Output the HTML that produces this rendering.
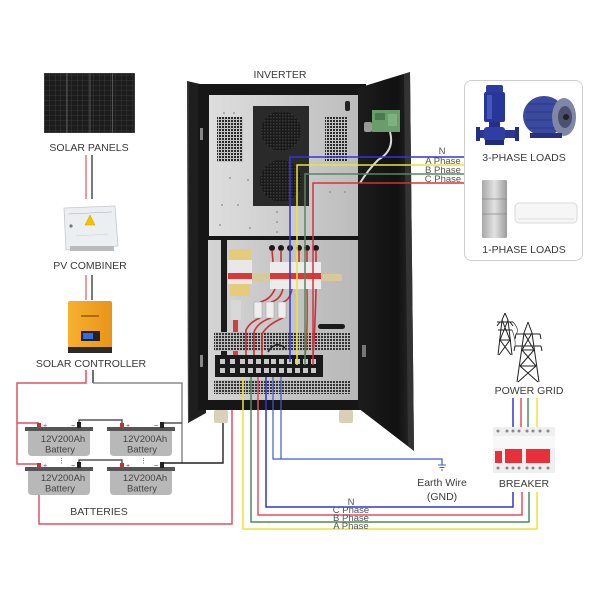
<!DOCTYPE html>
<html><head><meta charset="utf-8"><style>
html,body{margin:0;padding:0;background:#fff;}
svg{display:block;}
text{font-family:"Liberation Sans",Arial,sans-serif;fill:#3a3a3a;}
</style></head><body>
<svg width="600" height="600" viewBox="0 0 600 600" xmlns="http://www.w3.org/2000/svg">
<defs>
 <pattern id="vent" width="3" height="3" patternUnits="userSpaceOnUse"><rect width="3" height="3" fill="#c4c4c4"/><rect width="2" height="2" fill="#2a2a2a"/></pattern>
 <pattern id="vent2" width="3" height="3" patternUnits="userSpaceOnUse"><rect width="3" height="3" fill="#bdbdbd"/><rect width="2" height="2" fill="#333"/></pattern>
 <pattern id="cell" width="5.5" height="5" patternUnits="userSpaceOnUse"><rect width="5.5" height="5" fill="#1c1c1c"/><path d="M0 0H5.5M0 0V5" stroke="#4a4a4a" stroke-width="0.6"/></pattern>
 <pattern id="fan" width="3" height="3" patternUnits="userSpaceOnUse"><rect width="3" height="3" fill="#1a1a1a"/><rect width="1.5" height="1.5" fill="#3a3a3a"/></pattern>
 <linearGradient id="upper" x1="0" x2="1"><stop offset="0" stop-color="#dedede"/><stop offset="1" stop-color="#bcbcbc"/></linearGradient>
 <linearGradient id="lower" x1="0" x2="1"><stop offset="0" stop-color="#d4d4d4"/><stop offset="1" stop-color="#b8b8b8"/></linearGradient>
 <linearGradient id="orange" x1="0" x2="1"><stop offset="0" stop-color="#f7b030"/><stop offset="1" stop-color="#e89418"/></linearGradient>
 <linearGradient id="fridge" x1="0" x2="1"><stop offset="0" stop-color="#a8a8a8"/><stop offset="0.5" stop-color="#e2e2e2"/><stop offset="1" stop-color="#9c9c9c"/></linearGradient>
 <linearGradient id="door" x1="0" x2="1"><stop offset="0" stop-color="#1c1c1c"/><stop offset="0.7" stop-color="#111"/><stop offset="1" stop-color="#2a2a2a"/></linearGradient>
</defs>

<!-- SOLAR PANELS -->
<rect x="44" y="73" width="91" height="60" fill="#555"/>
<rect x="44.5" y="73.5" width="22" height="59" fill="url(#cell)"/>
<rect x="67.5" y="73.5" width="22" height="59" fill="url(#cell)"/>
<rect x="90.5" y="73.5" width="21.5" height="59" fill="url(#cell)"/>
<rect x="113" y="73.5" width="21.5" height="59" fill="url(#cell)"/>
<text x="89" y="151" font-size="10.5" text-anchor="middle">SOLAR PANELS</text>
<line x1="86" y1="155" x2="86" y2="199" stroke="#e8808a" stroke-width="1.6"/>
<line x1="92" y1="155" x2="92" y2="199" stroke="#222" stroke-width="1.2"/>

<!-- PV COMBINER -->
<polygon points="64,208 115,206 118,246 66,250" fill="#eceff1" stroke="#c4c8cc" stroke-width="0.8"/>
<line x1="68" y1="214" x2="112" y2="212" stroke="#aab" stroke-width="0.6"/>
<polygon points="90,215 85,225 95,225" fill="#f2c400" stroke="#c8a000" stroke-width="0.5"/>
<circle cx="71" cy="226" r="1.6" fill="#777"/>
<line x1="76" y1="236" x2="108" y2="234" stroke="#ccc" stroke-width="0.6"/>
<rect x="70" y="246" width="44" height="5" fill="#bbb"/>
<text x="90" y="269" font-size="10.5" text-anchor="middle">PV COMBINER</text>
<line x1="86" y1="275" x2="86" y2="300" stroke="#e8808a" stroke-width="1.6"/>
<line x1="92" y1="275" x2="92" y2="300" stroke="#222" stroke-width="1.2"/>

<!-- SOLAR CONTROLLER -->
<rect x="68" y="301" width="44" height="52" rx="2" fill="url(#orange)"/>
<rect x="81" y="315" width="18" height="2" fill="#b06a10"/>
<rect x="81" y="331" width="19" height="10" fill="#222"/>
<rect x="83" y="333" width="10" height="6" fill="#3a6ae0"/>
<rect x="68" y="347" width="44" height="6" fill="#2a2a2a"/>
<text x="91" y="367" font-size="10.5" text-anchor="middle">SOLAR CONTROLLER</text>

<!-- battery wiring -->
<polyline points="86,370 86,383 17,383 17,464 39,464" fill="none" stroke="#e05060" stroke-width="1.5"/>
<line x1="17" y1="423" x2="39" y2="423" stroke="#e05060" stroke-width="1.5"/>
<line x1="93" y1="370" x2="93" y2="383" stroke="#222" stroke-width="1.3"/>
<polyline points="93,383 182,383 182,463" fill="none" stroke="#8a8a8a" stroke-width="1.5"/>
<line x1="162" y1="423" x2="182" y2="423" stroke="#333" stroke-width="1.3"/>
<polyline points="79,425 79,420 122,420 122,425" fill="none" stroke="#333" stroke-width="1.2"/>
<polyline points="79,465 79,460 122,460 122,465" fill="none" stroke="#333" stroke-width="1.2"/>
<polyline points="223,377 223,463 162,463" fill="none" stroke="#222" stroke-width="1.4"/>
<polyline points="232,377 232,524 39,524 39,464" fill="none" stroke="#e05060" stroke-width="1.5"/>

<!-- BATTERIES -->
<g>
 <rect x="25" y="427" width="68" height="4" fill="#555"/>
 <path d="M28,431 H90 V452 Q90,456 86,456 H32 Q28,456 28,452 Z" fill="#b8b8b8"/>
 <rect x="107" y="427" width="68" height="4" fill="#555"/>
 <path d="M110,431 H172 V452 Q172,456 168,456 H114 Q110,456 110,452 Z" fill="#b8b8b8"/>
 <rect x="25" y="467" width="68" height="4" fill="#555"/>
 <path d="M28,471 H90 V491 Q90,495 86,495 H32 Q28,495 28,491 Z" fill="#b8b8b8"/>
 <rect x="107" y="467" width="68" height="4" fill="#555"/>
 <path d="M110,471 H172 V491 Q172,495 168,495 H114 Q110,495 110,491 Z" fill="#b8b8b8"/>
 <rect x="37" y="423" width="4" height="5" fill="#c0303a"/><text x="43" y="428" font-size="7" style="fill:#d02030">+</text>
 <rect x="120" y="423" width="4" height="5" fill="#c0303a"/><text x="126" y="428" font-size="7" style="fill:#d02030">+</text>
 <rect x="77" y="422" width="4" height="6" fill="#222"/><text x="71" y="428" font-size="7" style="fill:#222">−</text>
 <rect x="160" y="422" width="4" height="6" fill="#222"/><text x="154" y="428" font-size="7" style="fill:#222">−</text>
 <rect x="37" y="463" width="4" height="5" fill="#c0303a"/><text x="43" y="468" font-size="7" style="fill:#d02030">+</text>
 <rect x="120" y="463" width="4" height="5" fill="#c0303a"/><text x="126" y="468" font-size="7" style="fill:#d02030">+</text>
 <rect x="77" y="462" width="4" height="6" fill="#222"/><text x="71" y="468" font-size="7" style="fill:#222">−</text>
 <rect x="160" y="462" width="4" height="6" fill="#222"/><text x="154" y="468" font-size="7" style="fill:#222">−</text>
 <text x="58" y="463" font-size="7" style="fill:#444">⋮</text>
 <text x="140" y="463" font-size="7" style="fill:#444">⋮</text>
 <text x="63" y="442" font-size="9.5" text-anchor="middle" style="fill:#444">12V200Ah</text>
 <text x="60" y="452.5" font-size="9.5" text-anchor="middle" style="fill:#444">Battery</text>
 <text x="145" y="442" font-size="9.5" text-anchor="middle" style="fill:#444">12V200Ah</text>
 <text x="142" y="452.5" font-size="9.5" text-anchor="middle" style="fill:#444">Battery</text>
 <text x="63" y="481" font-size="9.5" text-anchor="middle" style="fill:#444">12V200Ah</text>
 <text x="60" y="491.5" font-size="9.5" text-anchor="middle" style="fill:#444">Battery</text>
 <text x="145" y="481" font-size="9.5" text-anchor="middle" style="fill:#444">12V200Ah</text>
 <text x="142" y="491.5" font-size="9.5" text-anchor="middle" style="fill:#444">Battery</text>
</g>
<text x="99" y="515" font-size="10.5" text-anchor="middle">BATTERIES</text>

<!-- INVERTER -->
<text x="280" y="78" font-size="10.5" text-anchor="middle">INVERTER</text>
<polygon points="187,81 200,84 206,413 188,423" fill="#1e1e1e"/>
<line x1="188" y1="82" x2="188.5" y2="422" stroke="#444" stroke-width="1"/>
<rect x="198" y="84" width="168" height="326" fill="#161616"/>
<rect x="200" y="128" width="3" height="12" fill="#888"/>
<rect x="200" y="355" width="3" height="12" fill="#888"/>
<!-- upper interior -->
<rect x="209" y="95" width="151" height="141" fill="url(#upper)"/>
<rect x="217" y="117" width="26" height="45" fill="url(#vent)"/>
<rect x="325" y="117" width="23" height="45" fill="url(#vent)"/>
<rect x="253" y="106" width="56" height="100" fill="#2a2a2a"/>
<circle cx="281" cy="131" r="20" fill="url(#fan)"/>
<circle cx="281" cy="181" r="21" fill="url(#fan)"/>
<rect x="345" y="101" width="5" height="10" rx="2" fill="#222"/>
<g fill="#8a8a8a">
 <circle cx="224" cy="113" r="0.9"/><circle cx="234" cy="113" r="0.9"/><circle cx="230" cy="178" r="0.9"/><circle cx="248" cy="180" r="0.9"/>
 <circle cx="222" cy="205" r="0.9"/><circle cx="238" cy="205" r="0.9"/><circle cx="220" cy="225" r="0.9"/><circle cx="250" cy="228" r="0.9"/>
 <circle cx="277" cy="212" r="0.9"/><circle cx="277" cy="222" r="0.9"/><circle cx="277" cy="232" r="0.9"/><circle cx="330" cy="192" r="0.9"/><circle cx="345" cy="192" r="0.9"/>
</g>
<!-- lower interior -->
<rect x="208" y="240" width="150" height="160" fill="url(#lower)"/>
<rect x="221" y="240" width="6" height="115" fill="#1c1c1c"/>
<rect x="229" y="249" width="22" height="11" fill="#e6cc7a"/>
<rect x="228" y="260" width="24" height="24" fill="#e8e8e8"/>
<rect x="228" y="273" width="24" height="6" fill="#d83a3a"/>
<rect x="230" y="284" width="20" height="12" fill="#e6cc7a"/>
<rect x="231" y="300" width="10" height="20" fill="#d8d8d8"/>
<rect x="233" y="320" width="5" height="36" fill="#d04040"/>
<rect x="252" y="274" width="90" height="7" fill="#d8c89a"/>
<rect x="270" y="262" width="51" height="27" fill="#ececec"/>
<rect x="270" y="273" width="51" height="6" fill="#d83a3a"/>
<g fill="#1a1a1a">
 <circle cx="272" cy="248" r="3"/><circle cx="281" cy="248" r="3"/><circle cx="290" cy="248" r="3"/>
 <circle cx="299" cy="248" r="3"/><circle cx="307" cy="248" r="3"/><circle cx="316" cy="248" r="3"/>
</g>
<!-- vents lower -->
<rect x="214" y="332" width="136" height="19" fill="url(#vent2)"/>
<rect x="214" y="380" width="136" height="14" fill="url(#vent2)"/>
<g stroke="#c8303a" stroke-width="1.6" fill="none">
 <line x1="272" y1="250" x2="273" y2="262"/><line x1="281" y1="250" x2="281" y2="262"/>
 <line x1="299" y1="250" x2="299" y2="262"/><line x1="307" y1="250" x2="307" y2="262"/><line x1="316" y1="250" x2="316" y2="262"/>
 <path d="M275,289 Q270,300 260,302"/><path d="M283,289 Q280,300 271,302"/><path d="M292,289 Q290,300 283,302"/>
 <path d="M260,318 Q250,322 246,330 V356"/><path d="M271,318 Q258,322 254,332 V356"/><path d="M283,318 Q268,324 262,334 V356"/>
 <path d="M307,289 Q308,330 305,356" stroke="#a05a3a"/><path d="M316,289 Q315,330 313,356"/>
</g>
<rect x="254" y="302" width="8" height="16" fill="#eee" stroke="#999" stroke-width="0.5"/>
<rect x="266" y="302" width="8" height="16" fill="#eee" stroke="#999" stroke-width="0.5"/>
<rect x="278" y="302" width="8" height="16" fill="#eee" stroke="#999" stroke-width="0.5"/>
<rect x="318" y="324" width="27" height="5" rx="2.5" fill="#1a1a1a"/>
<path d="M268,352 Q275,340 285,348" fill="none" stroke="#222" stroke-width="1.5"/>
<!-- terminal block -->
<rect x="215" y="355" width="108" height="22" fill="#1a1a1a"/>
<g fill="#c8c8c8">
 <rect x="220" y="359" width="5" height="5"/><rect x="230" y="359" width="5" height="5"/><rect x="240" y="359" width="5" height="5"/>
 <rect x="248" y="359" width="5" height="5"/><rect x="256" y="359" width="5" height="5"/><rect x="264" y="359" width="5" height="5"/>
 <rect x="271" y="359" width="5" height="5"/><rect x="279" y="359" width="5" height="5"/><rect x="287" y="359" width="5" height="5"/>
 <rect x="295" y="359" width="5" height="5"/><rect x="303" y="359" width="5" height="5"/><rect x="311" y="359" width="5" height="5"/>
 <rect x="220" y="368" width="5" height="5"/><rect x="230" y="368" width="5" height="5"/><rect x="240" y="368" width="5" height="5"/>
 <rect x="248" y="368" width="5" height="5"/><rect x="256" y="368" width="5" height="5"/><rect x="264" y="368" width="5" height="5"/>
 <rect x="271" y="368" width="5" height="5"/><rect x="279" y="368" width="5" height="5"/><rect x="287" y="368" width="5" height="5"/>
 <rect x="295" y="368" width="5" height="5"/><rect x="303" y="368" width="5" height="5"/><rect x="311" y="368" width="5" height="5"/>
</g>
<rect x="208" y="400" width="150" height="10" fill="#161616"/>
<!-- feet -->
<rect x="214" y="410" width="14" height="13" rx="2" fill="#d8d0b8"/>
<rect x="339" y="410" width="14" height="13" rx="2" fill="#d8d0b8"/>
<!-- right door -->
<polygon points="358,88 410,72 414,451 358,408" fill="url(#door)"/>
<polygon points="404,74 410,72 414,451 408,446" fill="#333"/>
<rect x="362" y="345" width="4" height="12" fill="#777"/>
<!-- PCB -->
<rect x="372" y="110" width="28" height="22" fill="#6a9c6c"/>
<rect x="375" y="113" width="10" height="7" fill="#4a7a50"/>
<rect x="388" y="114" width="9" height="12" fill="#7fb07f"/>
<rect x="364" y="122" width="8" height="10" rx="2" fill="#999"/>
<path d="M390,132 Q395,150 378,160 Q368,170 360,183" fill="none" stroke="#d8d8d8" stroke-width="2"/>

<!-- AC WIRES to loads -->
<polyline points="290,362 290,157 465,157" fill="none" stroke="#3434d8" stroke-width="1.5"/>
<polyline points="297,365 297,165 465,165" fill="none" stroke="#ece436" stroke-width="1.5"/>
<polyline points="305,365 305,174 465,174" fill="none" stroke="#4f8a5e" stroke-width="1.5"/>
<polyline points="313,365 313,183 465,183" fill="none" stroke="#d8303e" stroke-width="1.5"/>
<text x="442" y="154" font-size="9.5" text-anchor="middle" style="fill:#555">N</text>
<text x="443" y="164" font-size="9.5" text-anchor="middle" style="fill:#555">A Phase</text>
<text x="443" y="173" font-size="9.5" text-anchor="middle" style="fill:#555">B Phase</text>
<text x="443" y="182" font-size="9.5" text-anchor="middle" style="fill:#555">C Phase</text>

<!-- LOADS BOX -->
<rect x="464.5" y="80.5" width="118" height="180" rx="7" fill="#fff" stroke="#cfcfcf" stroke-width="1"/>
<rect x="486" y="85" width="17" height="8" rx="2" fill="#2e3c9e"/>
<rect x="484" y="92" width="21" height="30" rx="2" fill="#27369a"/>
<rect x="487" y="95" width="5" height="24" fill="#4656b8"/>
<rect x="489" y="122" width="11" height="7" fill="#22308a"/>
<rect x="478" y="130" width="39" height="8" fill="#2a3890"/>
<rect x="476" y="127" width="4" height="14" fill="#233080"/>
<rect x="515" y="127" width="4" height="14" fill="#233080"/>
<rect x="484" y="127" width="21" height="14" rx="3" fill="#2f3ea2"/>
<rect x="485" y="140" width="19" height="5" fill="#1f2a78"/>
<ellipse cx="544" cy="116" rx="21" ry="20" fill="#3a4a9e"/>
<path d="M528,104 H558 M526,112 H560 M526,120 H560 M528,128 H558" stroke="#2a3680" stroke-width="1"/>
<ellipse cx="564" cy="117" rx="12" ry="19" fill="#7f86a6"/>
<ellipse cx="565" cy="117" rx="7" ry="11" fill="#4a5070"/>
<circle cx="566" cy="117" r="3" fill="#222"/>
<rect x="530" y="133" width="32" height="5" fill="#2a3080"/>
<text x="524" y="161" font-size="10.5" text-anchor="middle">3-PHASE LOADS</text>
<rect x="482" y="180" width="25" height="58" rx="1.5" fill="url(#fridge)"/>
<line x1="482" y1="199" x2="507" y2="199" stroke="#888" stroke-width="0.8"/>
<line x1="482" y1="214" x2="507" y2="214" stroke="#888" stroke-width="0.8"/>
<rect x="515" y="203" width="62" height="20" rx="4" fill="#f6f6f6" stroke="#dadada"/>
<line x1="518" y1="219" x2="574" y2="219" stroke="#ddd"/>
<text x="524" y="253" font-size="10.5" text-anchor="middle">1-PHASE LOADS</text>

<!-- POWER GRID towers -->
<g fill="none" stroke="#222" stroke-width="1">
 <path d="M505,313 L502,320 L498,355 M505,313 L508,320 L512,355"/>
 <path d="M497,322 H513 M498,330 H512 M500,322 L497,326 M510,322 L513,326"/>
 <path d="M502,320 L510,340 M508,320 L500,340 M500,340 L511,355 M510,340 L499,355 M499,340 H511"/>
 <path d="M528,322 L524,333 L517,382 M528,322 L532,333 L539,382"/>
 <path d="M516,334 H540 M515,346 H541 M516,334 L515,339 M540,334 L541,339 M515,346 L514,351 M541,346 L542,351"/>
 <path d="M524,333 L534,350 M532,333 L522,350 M522,350 L536,366 M534,350 L520,366 M520,366 L538,382 M536,366 L518,382 M522,350 H534 M520,366 H536"/>
 <path d="M513,322 Q520,330 516,334 M512,330 Q516,340 515,346" stroke-width="0.6"/>
</g>
<text x="529" y="394" font-size="10.5" text-anchor="middle">POWER GRID</text>
<line x1="513" y1="398" x2="513" y2="427" stroke="#3434d8" stroke-width="1.5"/>
<line x1="521" y1="398" x2="521" y2="427" stroke="#e05060" stroke-width="1.5"/>
<line x1="528" y1="398" x2="528" y2="427" stroke="#4f8a5e" stroke-width="1.5"/>
<line x1="537" y1="398" x2="537" y2="427" stroke="#ece436" stroke-width="1.5"/>

<!-- BREAKER -->
<rect x="493" y="427" width="62" height="46" fill="#efefef"/>
<rect x="493" y="436" width="62" height="12" fill="#f8f8f8"/>
<g fill="#888">
 <circle cx="498" cy="431" r="1.5"/><circle cx="507" cy="431" r="1.5"/><circle cx="513" cy="431" r="1.5"/><circle cx="519" cy="431" r="1.5"/>
 <circle cx="527" cy="431" r="1.5"/><circle cx="533" cy="431" r="1.5"/><circle cx="540" cy="431" r="1.5"/><circle cx="548" cy="431" r="1.5"/>
 <circle cx="498" cy="468" r="1.5"/><circle cx="507" cy="468" r="1.5"/><circle cx="513" cy="468" r="1.5"/><circle cx="519" cy="468" r="1.5"/>
 <circle cx="527" cy="468" r="1.5"/><circle cx="533" cy="468" r="1.5"/><circle cx="540" cy="468" r="1.5"/><circle cx="548" cy="468" r="1.5"/>
</g>
<rect x="495" y="451" width="7" height="12" fill="#e8303a"/>
<rect x="505" y="449" width="17" height="14" fill="#e8303a"/>
<rect x="526" y="449" width="24" height="14" fill="#e8303a"/>
<text x="524" y="487" font-size="10.5" text-anchor="middle">BREAKER</text>

<!-- wires from inverter to grid -->
<polyline points="243,377 243,529 537,529 537,492" fill="none" stroke="#ece436" stroke-width="1.5"/>
<polyline points="251,377 251,522 529,522 529,492" fill="none" stroke="#4f8a5e" stroke-width="1.5"/>
<polyline points="258,377 258,515 522,515 522,492" fill="none" stroke="#e05060" stroke-width="1.5"/>
<polyline points="266,377 266,507 513,507 513,492" fill="none" stroke="#3434d8" stroke-width="1.5"/>
<text x="351" y="505" font-size="9.5" text-anchor="middle" style="fill:#555">N</text>
<text x="351" y="513" font-size="9.5" text-anchor="middle" style="fill:#555">C Phase</text>
<text x="351" y="521" font-size="9.5" text-anchor="middle" style="fill:#555">B Phase</text>
<text x="351" y="529" font-size="9.5" text-anchor="middle" style="fill:#555">A Phase</text>

<!-- earth -->
<polyline points="273,377 273,459 442,459 442,465" fill="none" stroke="#3a5ad8" stroke-width="1.2"/>
<line x1="281" y1="377" x2="281" y2="459" stroke="#3a5ad8" stroke-width="1.2"/>
<g stroke="#3a5ad8" stroke-width="1">
 <line x1="438" y1="465" x2="446" y2="465"/><line x1="439.5" y1="467.5" x2="444.5" y2="467.5"/><line x1="441" y1="470" x2="443" y2="470"/>
</g>
<text x="442" y="486" font-size="10.5" text-anchor="middle">Earth Wire</text>
<text x="442" y="500" font-size="10.5" text-anchor="middle">(GND)</text>
</svg>
</body></html>
